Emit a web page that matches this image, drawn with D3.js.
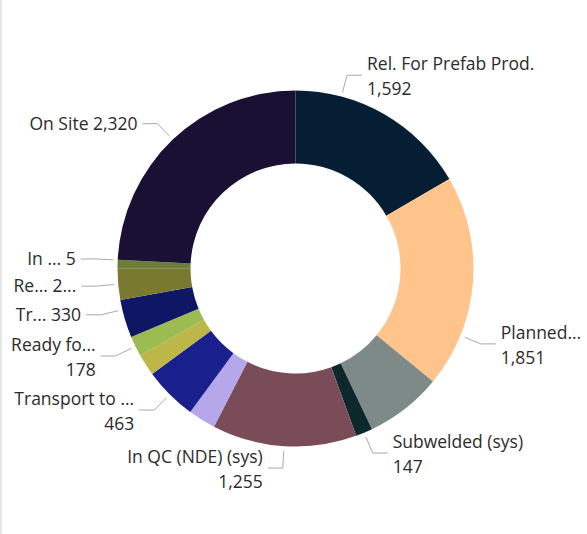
<!DOCTYPE html>
<html>
<head>
<meta charset="utf-8">
<script src="https://cdn.jsdelivr.net/npm/d3@7"></script>
<style>
  html, body { margin: 0; padding: 0; background: #ffffff; }
  svg { display: block; }
</style>
</head>
<body>
<svg id="chart" width="587" height="534"></svg>
<script>
// ---- data ----
const categories = ["Rel. For Prefab Prod.", "Planned...", "Segment 3", "Subwelded (sys)",
  "In QC (NDE) (sys)", "Segment 6", "Transport to ...", "Segment 8", "Ready fo...",
  "Tr...", "Re...", "In ...", "On Site"];
const values = [1592, 1851, 668, 147, 1255, 239, 463, 188, 178, 330, 273, 72, 2320];
const valueLabels = ["1,592", "1,851", null, "147", "1,255", null, "463", null, "178",
  "330", "2...", "5", "2,320"];
const twoLine = [true, true, false, true, true, false, true, false, true, false, false, false, false];
const colors = ["#061e33", "#ffc38c", "#7e8a88", "#0d282d", "#7a4c57", "#b6a6ea",
  "#1a1f8e", "#bdb649", "#9cbb50", "#0e1763", "#7a7930", "#6b7f3a", "#1a1033"];
// leader angle adjustments (degrees) where the label line is not at the slice middle
const leaderShift = [-15, 17.5, 0, 0, 0, 0, 0, 0, 0, 3, 0, 1.3, 0];

// ---- layout ----
const cx = 295.5, cy = 268.5, rOuter = 178, rInner = 105;
const fontFamily = "'Open Sans', 'Noto Sans', sans-serif";
const fontSize = 17.5;

const svg = d3.select("#chart");
svg.append("line").attr("x1", 1).attr("x2", 1).attr("y1", 0).attr("y2", 534)
  .attr("stroke", "#dcdcdc").attr("stroke-width", 1.5);

const g = svg.append("g").attr("transform", `translate(${cx},${cy})`);
const pie = d3.pie().sort(null).value(d => d.value).startAngle(0).endAngle(2 * Math.PI);
const data = categories.map((c, i) => ({ name: c, value: values[i], i }));
const arcs = pie(data);
const arc = d3.arc().innerRadius(rInner).outerRadius(rOuter);

g.selectAll("path.slice").data(arcs).enter().append("path")
  .attr("class", "slice")
  .attr("d", arc)
  .attr("fill", d => colors[d.data.i]);

const labelled = arcs.filter(d => valueLabels[d.data.i] !== null);
const pt = (a, r) => [Math.sin(a) * r, -Math.cos(a) * r];

labelled.forEach(d => {
  const i = d.data.i;
  const a = (d.startAngle + d.endAngle) / 2 + leaderShift[i] * Math.PI / 180;
  const p0 = pt(a, rOuter + 4.5);
  const p1 = pt(a, rOuter + 22);
  const right = a < Math.PI;
  const dir = right ? 1 : -1;
  const p2 = [p1[0] + dir * 15, p1[1]];
  g.append("polyline")
    .attr("points", [p0, p1, p2].map(p => p.join(",")).join(" "))
    .attr("fill", "none").attr("stroke", "#a9a9a9").attr("stroke-width", 1);
  const tx = p2[0] + dir * 5;
  const t = g.append("text")
    .attr("x", tx)
    .attr("text-anchor", right ? "start" : "end")
    .attr("font-family", fontFamily)
    .attr("font-size", fontSize)
    .attr("fill", "#2b2b2b");
  if (twoLine[i]) {
    t.append("tspan").attr("x", tx).attr("y", p1[1] - 5).text(categories[i]);
    t.append("tspan").attr("x", tx).attr("y", p1[1] + 20).text(valueLabels[i]);
  } else {
    t.attr("y", p1[1] + 6).text(categories[i] + " " + valueLabels[i]);
  }
});
</script>
</body>
</html>
